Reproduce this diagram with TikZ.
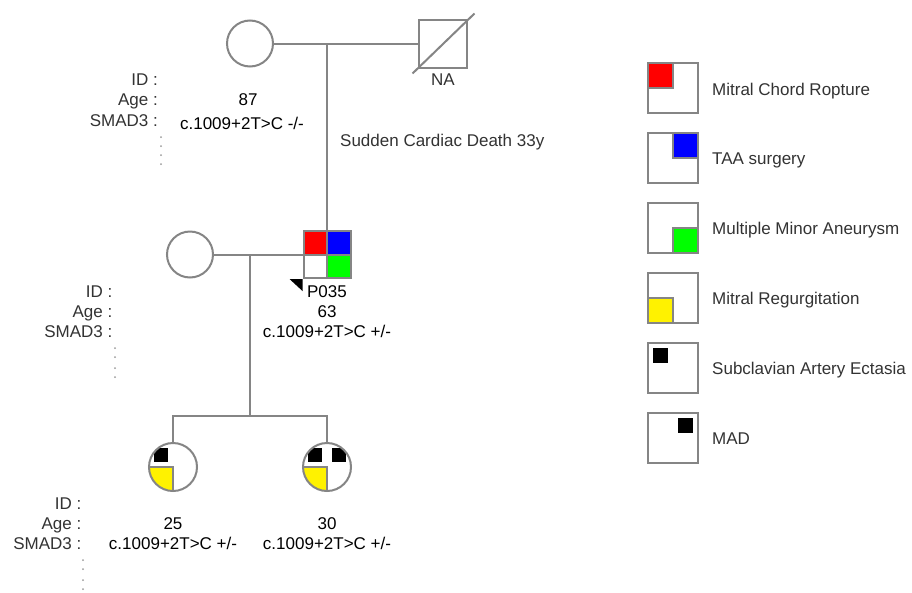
\documentclass[tikz,border=0pt]{standalone}
\usepackage{fontspec}
\setmainfont{Liberation Sans}
\definecolor{lg}{HTML}{858585}
\definecolor{tx}{HTML}{333333}
\definecolor{dt}{HTML}{9A9A9A}
\newcommand\ppbb{path picture bounding box}
\begin{document}
\begin{tikzpicture}[x=1pt,y=-1pt,font=\fontsize{17}{20}\selectfont,
  ln/.style={draw=lg,line width=2pt,line join=miter},
  fem/.style={circle,draw=lg,line width=2pt,fill=white,inner sep=0pt,outer sep=0pt,minimum size=46pt},
  mal/.style={rectangle,draw=lg,line width=2pt,fill=white,inner sep=0pt,outer sep=0pt,minimum size=47pt},
  lbox/.style={rectangle,draw=lg,line width=2pt,fill=white,inner sep=0pt,outer sep=0pt,minimum size=50pt},
  lab/.style={anchor=base east,inner sep=0pt,text=tx},
  val/.style={anchor=base,inner sep=0pt,text=black},
  leg/.style={anchor=base west,inner sep=0pt,text=tx},
  quad/.style={line width=2pt,draw=lg}]
\useasboundingbox[fill=white] (0,0) rectangle (912,592);

% generation I
\node[fem] (gm) at (250,43.5) {};
\node[mal,minimum size=48pt] (gf) at (442.5,43.5) {};
\draw[ln] (gm.east) -- (gf.west);
\draw[ln] ([shift={(-30,30)}]gf.center) -- ([shift={(32,-30)}]gf.center);
\node[val,text=tx] (na) at (443,85) {NA};
\coordinate (c1) at (327,43.5);

% generation II
\node[mal,path picture={
   \fill[red] (\ppbb.north west) rectangle (\ppbb.center);
   \fill[blue] (\ppbb.north east) rectangle (\ppbb.center);
   \fill[green] (\ppbb.south east) rectangle (\ppbb.center);
   \draw[quad] (\ppbb.north) -- (\ppbb.south) (\ppbb.west) -- (\ppbb.east);}] (p) at (327,254.5) {};
\draw[ln] (c1) -- (p.north);
\node[fem] (w) at (190,254.5) {};
\draw[ln] (w.east) -- (p.west);
\coordinate (c2) at (250,254.5);
\fill[black] ([shift={(-1,1)}]p.south west) -- ++(-13,0) -- ++(13,12) -- cycle;

% generation III
\coordinate (s) at (250,416);
\coordinate (sL) at (173,416);
\coordinate (sR) at (327,416);
\node[fem,minimum size=48pt,path picture={
   \fill[yellow] (\ppbb.south west) rectangle (\ppbb.center);
   \draw[quad] (\ppbb.west) -- (\ppbb.center) -- (\ppbb.south);
   \fill[black] ([shift={(5,5)}]\ppbb.north west) rectangle ([shift={(19,19)}]\ppbb.north west);}] (k1) at (173,467) {};
\node[fem,minimum size=48pt,path picture={
   \fill[yellow] (\ppbb.south west) rectangle (\ppbb.center);
   \draw[quad] (\ppbb.west) -- (\ppbb.center) -- (\ppbb.south);
   \fill[black] ([shift={(5,5)}]\ppbb.north west) rectangle ([shift={(19,19)}]\ppbb.north west);
   \fill[black] ([shift={(-19,5)}]\ppbb.north east) rectangle ([shift={(-5,19)}]\ppbb.north east);}] (k2) at (327,467) {};
\draw[ln] (c2) -- (s);
\draw[ln] (k1.north) -- (sL) -- (sR) -- (k2.north);

% text generation I
\node[lab] (id1) at (158,85) {ID :};
\node[lab] (ag1) at (158,105) {Age :};
\node[lab] (sm1) at (158,126) {SMAD3 :};
\node[val] (v87) at (248,105) {87};
\node[val] (g1) at (242,129) {c.1009+2T>C -/-};
\foreach \yy in {137,146,155,164} \fill[dt] (161,\yy) circle (1);
\node[leg] (scd) at (340,146) {Sudden Cardiac Death 33y};

% text generation II
\node[lab] (id2) at (112.5,297) {ID :};
\node[lab] (ag2) at (112.5,317.5) {Age :};
\node[lab] (sm2) at (112.5,337.5) {SMAD3 :};
\node[val] (pid) at (327,297) {P035};
\node[val] (v63) at (327,317.5) {63};
\node[val] (g2) at (327,337.5) {c.1009+2T>C +/-};
\foreach \yy in {348,357,368,377} \fill[dt] (115,\yy) circle (1);

% text generation III
\node[lab] (id3) at (81.5,509) {ID :};
\node[lab] (ag3) at (81.5,529) {Age :};
\node[lab] (sm3) at (81.5,549) {SMAD3 :};
\node[val] (v25) at (173,529) {25};
\node[val] (g3) at (173,549) {c.1009+2T>C +/-};
\node[val] (v30) at (327,529) {30};
\node[val] (g4) at (327,549) {c.1009+2T>C +/-};
\foreach \yy in {560,569,580,589} \fill[dt] (83,\yy) circle (1);

% legend
\node[lbox,path picture={\filldraw[fill=red,quad] (\ppbb.north west) rectangle (\ppbb.center);}] (L1) at (673,88) {};
\node[lbox,path picture={\filldraw[fill=blue,quad] (\ppbb.north east) rectangle (\ppbb.center);}] (L2) at (673,158) {};
\node[lbox,path picture={\filldraw[fill=green,quad] (\ppbb.south east) rectangle (\ppbb.center);}] (L3) at (673,228) {};
\node[lbox,path picture={\filldraw[fill=yellow,quad] (\ppbb.south west) rectangle (\ppbb.center);}] (L4) at (673,298) {};
\node[lbox,path picture={\fill[black] ([shift={(5,5)}]\ppbb.north west) rectangle ([shift={(20,20)}]\ppbb.north west);}] (L5) at (673,368) {};
\node[lbox,path picture={\fill[black] ([shift={(-20,5)}]\ppbb.north east) rectangle ([shift={(-5,20)}]\ppbb.north east);}] (L6) at (673,438) {};
\node[leg] (T1) at (712,95) {Mitral Chord Ropture};
\node[leg] (T2) at (712,164) {TAA surgery};
\node[leg] (T3) at (712,234) {Multiple Minor Aneurysm};
\node[leg] (T4) at (712,304) {Mitral Regurgitation};
\node[leg] (T5) at (712,374) {Subclavian Artery Ectasia};
\node[leg] (T6) at (712,444) {MAD};
\end{tikzpicture}
\end{document}
